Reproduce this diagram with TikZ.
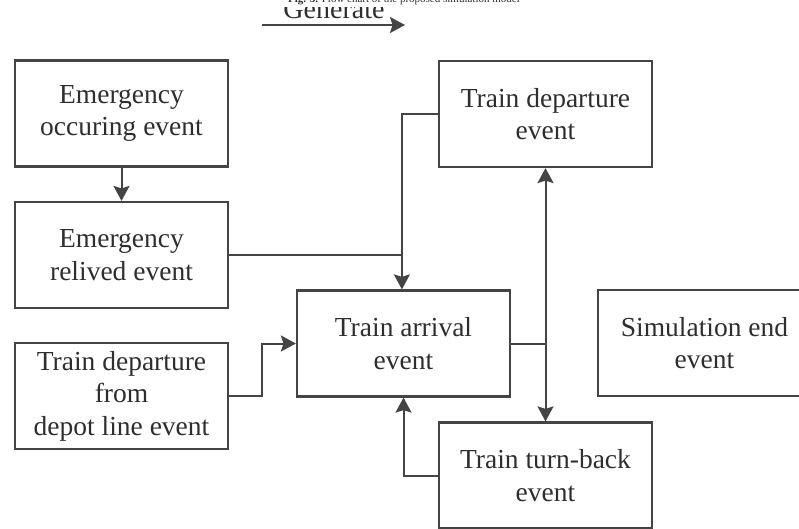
\documentclass[tikz,border=0pt]{standalone}
\usepackage{fontspec}
\setmainfont{Liberation Serif}
\usetikzlibrary{arrows.meta}
\definecolor{linec}{HTML}{444444}
\definecolor{textc}{HTML}{2E2E2E}
\begin{document}
\begin{tikzpicture}[x=1pt,y=-1pt,
  box/.style={draw=linec,line width=2.2pt,minimum width=213pt,minimum height=106pt,
    align=center,text=textc,inner sep=0pt,
    font=\fontsize{27.5}{32.5}\selectfont},
  conn/.style={draw=linec,line width=2pt},
  arr/.style={conn,-{Stealth[length=15pt,width=16pt,inset=2.5pt]}}]
\useasboundingbox (0,0) rectangle (799,529);
\begin{scope}
\clip (0,0) rectangle (799,529);
% event boxes
\node[box] (occ) at (121.5,113.5) {Emergency\\occuring event};
\node[box] (rel) at (121.5,255) {Emergency\\relived event};
\node[box] (depot) at (121.5,396) {Train departure\\from\\depot line event};
\node[box] (arr) at (403.5,343.5) {Train arrival\\event};
\node[box] (dep) at (545.5,114) {Train departure\\event};
\node[box] (turn) at (545.5,475.5) {Train turn-back\\event};
\node[box] (send) at (704.5,343) {Simulation end\\event};
% legend and caption
\node[anchor=base,text=textc,font=\fontsize{11}{12}\selectfont] (cap) at (404,3)
  {\textbf{Fig. 3.} Flow chart of the proposed simulation model};
\begin{scope}
\clip (240,8) rectangle (420,40);
\node[anchor=base,text=textc,font=\fontsize{28}{30}\selectfont] (gen) at (334,18.5) {Generate};
\end{scope}
\coordinate (g1) at (262,25);
\coordinate (g2) at (405,25);
\draw[arr] (g1) -- (g2);
% connectors
\draw[arr] (occ.south) -- (rel.north);
\draw[arr] (dep.west) -- ++(-36,0) coordinate (jn) -- (jn |- arr.north);
\draw[conn] (rel.east) -- (rel.east -| jn);
\draw[arr] (depot.east) -- ++(33,0) coordinate (k) -- (k |- arr.west) -- (arr.west);
\draw[conn] (arr.east) -- (arr.east -| dep.south);
\draw[arr] (arr.east -| dep.south) -- (dep.south);
\draw[arr] (arr.east -| dep.south) -- (turn.north);
\draw[arr] (turn.west) -- (turn.west -| arr.south) -- (arr.south);
\end{scope}
\end{tikzpicture}
\end{document}
